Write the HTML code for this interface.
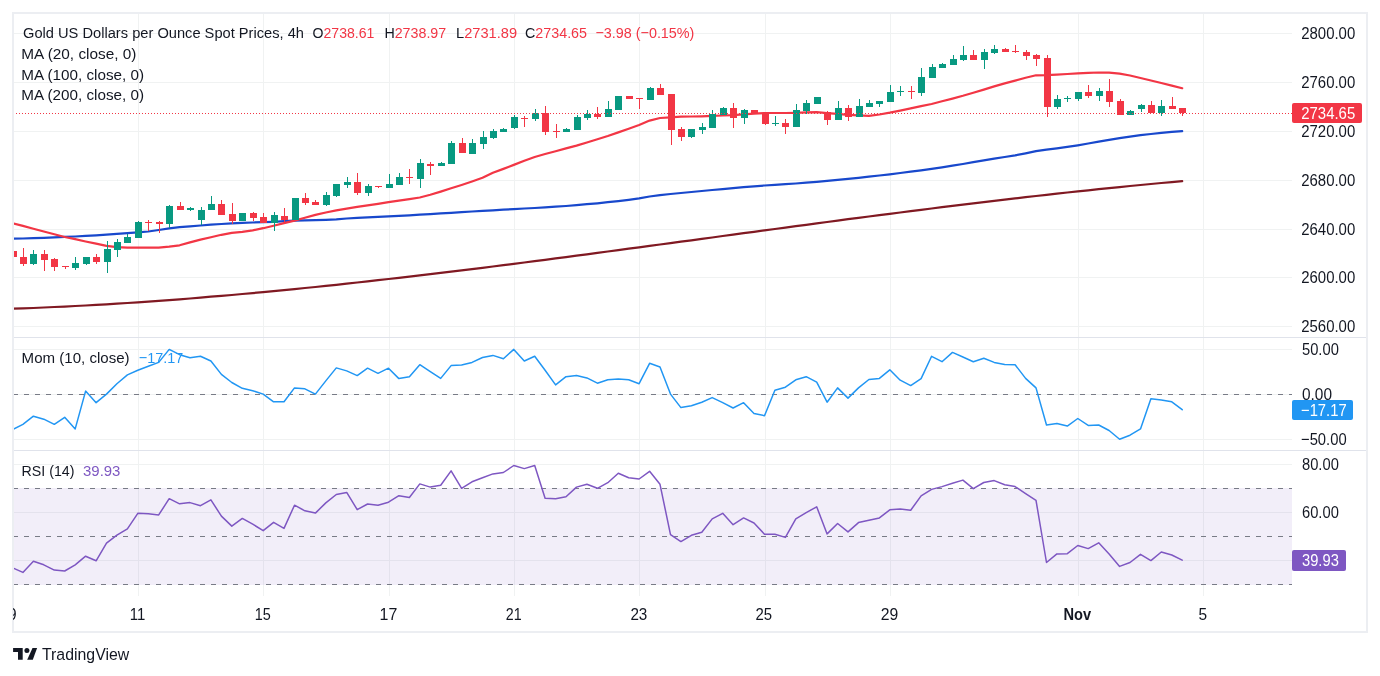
<!DOCTYPE html><html><head><meta charset="utf-8"><style>
html,body{margin:0;padding:0;background:#fff;width:1380px;height:676px;overflow:hidden}
body{position:relative;font-family:"Liberation Sans",sans-serif;color:#131722}
.t{position:absolute;white-space:nowrap;line-height:1}
svg{position:absolute;left:0;top:0;will-change:transform}
</style></head><body>
<svg width="1380" height="676" viewBox="0 0 1380 676">
<g stroke="#f0f2f2" stroke-width="1" shape-rendering="crispEdges">
<line x1="13" y1="33.5" x2="1292" y2="33.5"/>
<line x1="13" y1="82.5" x2="1292" y2="82.5"/>
<line x1="13" y1="131.5" x2="1292" y2="131.5"/>
<line x1="13" y1="180.5" x2="1292" y2="180.5"/>
<line x1="13" y1="229.5" x2="1292" y2="229.5"/>
<line x1="13" y1="277.5" x2="1292" y2="277.5"/>
<line x1="13" y1="326.5" x2="1292" y2="326.5"/>
<line x1="13" y1="349.5" x2="1292" y2="349.5"/>
<line x1="13" y1="394.5" x2="1292" y2="394.5"/>
<line x1="13" y1="439.5" x2="1292" y2="439.5"/>
<line x1="13" y1="464.5" x2="1292" y2="464.5"/>
<line x1="13" y1="512.5" x2="1292" y2="512.5"/>
<line x1="13" y1="560.5" x2="1292" y2="560.5"/>
<line x1="138.5" y1="13" x2="138.5" y2="337"/>
<line x1="138.5" y1="338" x2="138.5" y2="450"/>
<line x1="138.5" y1="451" x2="138.5" y2="596"/>
<line x1="263.5" y1="13" x2="263.5" y2="337"/>
<line x1="263.5" y1="338" x2="263.5" y2="450"/>
<line x1="263.5" y1="451" x2="263.5" y2="596"/>
<line x1="389.5" y1="13" x2="389.5" y2="337"/>
<line x1="389.5" y1="338" x2="389.5" y2="450"/>
<line x1="389.5" y1="451" x2="389.5" y2="596"/>
<line x1="514.5" y1="13" x2="514.5" y2="337"/>
<line x1="514.5" y1="338" x2="514.5" y2="450"/>
<line x1="514.5" y1="451" x2="514.5" y2="596"/>
<line x1="639.5" y1="13" x2="639.5" y2="337"/>
<line x1="639.5" y1="338" x2="639.5" y2="450"/>
<line x1="639.5" y1="451" x2="639.5" y2="596"/>
<line x1="765.5" y1="13" x2="765.5" y2="337"/>
<line x1="765.5" y1="338" x2="765.5" y2="450"/>
<line x1="765.5" y1="451" x2="765.5" y2="596"/>
<line x1="890.5" y1="13" x2="890.5" y2="337"/>
<line x1="890.5" y1="338" x2="890.5" y2="450"/>
<line x1="890.5" y1="451" x2="890.5" y2="596"/>
<line x1="1078.5" y1="13" x2="1078.5" y2="337"/>
<line x1="1078.5" y1="338" x2="1078.5" y2="450"/>
<line x1="1078.5" y1="451" x2="1078.5" y2="596"/>
<line x1="1203.5" y1="13" x2="1203.5" y2="337"/>
<line x1="1203.5" y1="338" x2="1203.5" y2="450"/>
<line x1="1203.5" y1="451" x2="1203.5" y2="596"/>
</g>
<rect x="13" y="488" width="1279" height="97" fill="rgb(126,87,194)" fill-opacity="0.1" shape-rendering="crispEdges"/>
<g stroke="#787b86" stroke-width="1" stroke-dasharray="5 6" shape-rendering="crispEdges">
<line x1="13" y1="394.5" x2="1292" y2="394.5"/>
<line x1="13" y1="488.5" x2="1292" y2="488.5"/>
<line x1="13" y1="536.5" x2="1292" y2="536.5"/>
<line x1="13" y1="584.5" x2="1292" y2="584.5"/>
</g>
<g stroke="#e0e3eb" stroke-width="1" shape-rendering="crispEdges" fill="none">
<line x1="14" y1="337.5" x2="1366" y2="337.5"/>
<line x1="14" y1="450.5" x2="1366" y2="450.5"/>
</g>
<defs><clipPath id="cp"><rect x="13" y="13" width="1279" height="583"/></clipPath></defs>
<g clip-path="url(#cp)">
<polyline points="12.5,308.7 22.9,308.4 33.4,308.0 43.8,307.5 54.3,307.0 64.7,306.6 75.2,306.0 85.6,305.5 96.1,304.9 106.5,304.3 116.9,303.6 127.4,303.0 137.8,302.3 148.3,301.6 158.7,300.8 169.2,300.1 179.6,299.3 190.0,298.5 200.5,297.6 210.9,296.7 221.4,295.9 231.8,295.0 242.3,294.0 252.7,293.1 263.2,292.1 273.6,291.1 284.0,290.1 294.5,289.1 304.9,288.0 315.4,287.0 325.8,285.9 336.3,284.8 346.7,283.6 357.2,282.5 367.6,281.4 378.0,280.2 388.5,279.0 398.9,277.8 409.4,276.6 419.8,275.4 430.3,274.1 440.7,272.9 451.1,271.6 461.6,270.3 472.0,269.1 482.5,267.8 492.9,266.5 503.4,265.1 513.8,263.8 524.3,262.5 534.7,261.1 545.1,259.8 555.6,258.4 566.0,257.1 576.5,255.7 586.9,254.3 597.4,252.9 607.8,251.5 618.3,250.1 628.7,248.7 639.1,247.3 649.6,245.9 660.0,244.5 670.5,243.1 680.9,241.7 691.4,240.3 701.8,238.9 712.2,237.5 722.7,236.0 733.1,234.6 743.6,233.2 754.0,231.8 764.5,230.4 774.9,229.0 785.4,227.6 795.8,226.2 806.2,224.8 816.7,223.4 827.1,222.0 837.6,220.6 848.0,219.2 858.5,217.9 868.9,216.5 879.4,215.2 889.8,213.8 900.2,212.5 910.7,211.1 921.1,209.8 931.6,208.5 942.0,207.2 952.5,205.9 962.9,204.6 973.3,203.4 983.8,202.1 994.2,200.9 1004.7,199.6 1015.1,198.4 1025.6,197.2 1036.0,196.0 1046.5,194.8 1056.9,193.7 1067.3,192.5 1077.8,191.4 1088.2,190.3 1098.7,189.2 1109.1,188.1 1119.6,187.1 1130.0,186.0 1140.5,185.0 1150.9,184.0 1161.3,183.0 1171.8,182.1 1182.2,181.1" fill="none" stroke="#801922" stroke-width="2.2" stroke-linejoin="round" stroke-linecap="round"/>
<polyline points="12.5,238.7 22.9,238.5 33.4,238.1 43.8,237.8 54.3,237.4 64.7,236.9 75.2,236.5 85.6,235.9 96.1,235.3 106.5,234.6 116.9,233.9 127.4,233.2 137.8,232.4 148.3,231.5 158.7,230.0 169.2,228.3 179.6,227.2 190.0,226.3 200.5,225.5 210.9,224.7 221.4,224.0 231.8,223.3 242.3,222.8 252.7,222.5 263.2,222.2 273.6,221.8 284.0,221.2 294.5,220.7 304.9,220.4 315.4,220.1 325.8,219.8 336.3,219.3 346.7,218.5 357.2,217.9 367.6,217.3 378.0,216.8 388.5,216.4 398.9,215.9 409.4,215.3 419.8,214.7 430.3,214.1 440.7,213.4 451.1,212.8 461.6,212.1 472.0,211.5 482.5,210.9 492.9,210.3 503.4,209.7 513.8,209.1 524.3,208.5 534.7,208.0 545.1,207.4 555.6,206.7 566.0,206.0 576.5,205.1 586.9,204.2 597.4,203.3 607.8,202.2 618.3,201.1 628.7,199.8 639.1,198.4 649.6,196.5 660.0,195.1 670.5,194.0 680.9,193.0 691.4,192.0 701.8,191.0 712.2,190.0 722.7,189.1 733.1,188.1 743.6,187.2 754.0,186.3 764.5,185.5 774.9,184.8 785.4,184.2 795.8,183.5 806.2,182.7 816.7,181.8 827.1,180.9 837.6,179.9 848.0,178.8 858.5,177.8 868.9,176.7 879.4,175.5 889.8,174.3 900.2,173.0 910.7,171.7 921.1,170.3 931.6,168.8 942.0,167.3 952.5,165.7 962.9,164.0 973.3,162.2 983.8,160.4 994.2,158.6 1004.7,157.0 1015.1,155.4 1025.6,153.3 1036.0,151.2 1046.5,149.6 1056.9,148.3 1067.3,146.9 1077.8,145.3 1088.2,143.5 1098.7,141.7 1109.1,139.9 1119.6,138.2 1130.0,136.6 1140.5,135.2 1150.9,134.0 1161.3,132.9 1171.8,131.9 1182.2,131.1" fill="none" stroke="#1848cc" stroke-width="2.2" stroke-linejoin="round" stroke-linecap="round"/>
<polyline points="12.5,223.3 22.9,225.9 33.4,228.7 43.8,231.5 54.3,234.3 64.7,237.0 75.2,239.2 85.6,241.5 96.1,243.7 106.5,245.8 116.9,247.1 127.4,247.6 137.8,247.6 148.3,247.6 158.7,247.6 169.2,246.6 179.6,245.3 190.0,242.4 200.5,239.6 210.9,237.2 221.4,234.8 231.8,232.9 242.3,231.8 252.7,230.3 263.2,228.2 273.6,225.7 284.0,223.1 294.5,220.6 304.9,217.8 315.4,214.9 325.8,212.5 336.3,210.4 346.7,208.6 357.2,206.9 367.6,205.4 378.0,203.8 388.5,202.2 398.9,200.7 409.4,199.1 419.8,197.5 430.3,194.7 440.7,191.6 451.1,188.3 461.6,185.0 472.0,181.5 482.5,177.8 492.9,172.8 503.4,168.9 513.8,164.9 524.3,160.8 534.7,157.0 545.1,154.0 555.6,151.2 566.0,148.4 576.5,145.6 586.9,142.5 597.4,139.2 607.8,136.0 618.3,132.4 628.7,128.7 639.1,125.0 649.6,120.6 660.0,118.0 670.5,117.3 680.9,116.7 691.4,116.5 701.8,116.3 712.2,115.9 722.7,115.5 733.1,115.1 743.6,114.4 754.0,113.7 764.5,113.0 774.9,113.0 785.4,113.0 795.8,112.8 806.2,112.4 816.7,112.1 827.1,113.1 837.6,113.9 848.0,114.8 858.5,115.4 868.9,115.9 879.4,114.5 889.8,112.7 900.2,110.6 910.7,108.4 921.1,106.2 931.6,104.0 942.0,101.3 952.5,98.6 962.9,95.8 973.3,92.7 983.8,89.6 994.2,86.4 1004.7,83.4 1015.1,80.6 1025.6,77.8 1036.0,75.3 1046.5,75.2 1056.9,74.6 1067.3,74.0 1077.8,73.4 1088.2,72.9 1098.7,72.5 1109.1,72.7 1119.6,73.7 1130.0,75.5 1140.5,78.0 1150.9,80.5 1161.3,83.0 1171.8,85.6 1182.2,88.2" fill="none" stroke="#F23645" stroke-width="2.2" stroke-linejoin="round" stroke-linecap="round"/>
<g shape-rendering="crispEdges">
<rect x="13" y="249" width="1" height="10" fill="#F23645"/>
<rect x="10" y="251" width="7" height="6" fill="#F23645"/>
<rect x="23" y="248" width="1" height="18" fill="#F23645"/>
<rect x="20" y="257" width="7" height="7" fill="#F23645"/>
<rect x="33" y="250" width="1" height="15" fill="#089981"/>
<rect x="30" y="254" width="7" height="10" fill="#089981"/>
<rect x="44" y="250" width="1" height="21" fill="#F23645"/>
<rect x="41" y="254" width="7" height="6" fill="#F23645"/>
<rect x="54" y="258" width="1" height="13" fill="#F23645"/>
<rect x="51" y="259" width="7" height="8" fill="#F23645"/>
<rect x="65" y="266" width="1" height="3" fill="#F23645"/>
<rect x="62" y="266" width="7" height="1" fill="#F23645"/>
<rect x="75" y="257" width="1" height="13" fill="#089981"/>
<rect x="72" y="263" width="7" height="5" fill="#089981"/>
<rect x="86" y="257" width="1" height="8" fill="#089981"/>
<rect x="83" y="257" width="7" height="7" fill="#089981"/>
<rect x="96" y="254" width="1" height="10" fill="#F23645"/>
<rect x="93" y="257" width="7" height="5" fill="#F23645"/>
<rect x="107" y="241" width="1" height="32" fill="#089981"/>
<rect x="104" y="249" width="7" height="13" fill="#089981"/>
<rect x="117" y="239" width="1" height="18" fill="#089981"/>
<rect x="114" y="242" width="7" height="8" fill="#089981"/>
<rect x="127" y="234" width="1" height="9" fill="#089981"/>
<rect x="124" y="237" width="7" height="6" fill="#089981"/>
<rect x="138" y="221" width="1" height="17" fill="#089981"/>
<rect x="135" y="222" width="7" height="16" fill="#089981"/>
<rect x="148" y="220" width="1" height="11" fill="#F23645"/>
<rect x="145" y="222" width="7" height="1" fill="#F23645"/>
<rect x="159" y="221" width="1" height="12" fill="#F23645"/>
<rect x="156" y="222" width="7" height="2" fill="#F23645"/>
<rect x="169" y="205" width="1" height="23" fill="#089981"/>
<rect x="166" y="206" width="7" height="18" fill="#089981"/>
<rect x="180" y="202" width="1" height="8" fill="#F23645"/>
<rect x="177" y="206" width="7" height="4" fill="#F23645"/>
<rect x="190" y="207" width="1" height="4" fill="#089981"/>
<rect x="187" y="208" width="7" height="2" fill="#089981"/>
<rect x="201" y="207" width="1" height="18" fill="#089981"/>
<rect x="198" y="210" width="7" height="10" fill="#089981"/>
<rect x="211" y="196" width="1" height="14" fill="#089981"/>
<rect x="208" y="204" width="7" height="6" fill="#089981"/>
<rect x="221" y="200" width="1" height="15" fill="#F23645"/>
<rect x="218" y="204" width="7" height="11" fill="#F23645"/>
<rect x="232" y="203" width="1" height="21" fill="#F23645"/>
<rect x="229" y="214" width="7" height="7" fill="#F23645"/>
<rect x="242" y="213" width="1" height="8" fill="#089981"/>
<rect x="239" y="213" width="7" height="8" fill="#089981"/>
<rect x="253" y="212" width="1" height="9" fill="#F23645"/>
<rect x="250" y="213" width="7" height="5" fill="#F23645"/>
<rect x="263" y="213" width="1" height="10" fill="#F23645"/>
<rect x="260" y="217" width="7" height="6" fill="#F23645"/>
<rect x="274" y="212" width="1" height="19" fill="#089981"/>
<rect x="271" y="215" width="7" height="8" fill="#089981"/>
<rect x="284" y="208" width="1" height="14" fill="#F23645"/>
<rect x="281" y="216" width="7" height="4" fill="#F23645"/>
<rect x="295" y="198" width="1" height="22" fill="#089981"/>
<rect x="292" y="198" width="7" height="22" fill="#089981"/>
<rect x="305" y="193" width="1" height="12" fill="#F23645"/>
<rect x="302" y="198" width="7" height="5" fill="#F23645"/>
<rect x="315" y="200" width="1" height="5" fill="#F23645"/>
<rect x="312" y="202" width="7" height="3" fill="#F23645"/>
<rect x="326" y="192" width="1" height="14" fill="#089981"/>
<rect x="323" y="195" width="7" height="10" fill="#089981"/>
<rect x="336" y="184" width="1" height="13" fill="#089981"/>
<rect x="333" y="184" width="7" height="12" fill="#089981"/>
<rect x="347" y="177" width="1" height="11" fill="#089981"/>
<rect x="344" y="182" width="7" height="3" fill="#089981"/>
<rect x="357" y="173" width="1" height="22" fill="#F23645"/>
<rect x="354" y="182" width="7" height="11" fill="#F23645"/>
<rect x="368" y="184" width="1" height="12" fill="#089981"/>
<rect x="365" y="186" width="7" height="7" fill="#089981"/>
<rect x="378" y="186" width="1" height="2" fill="#F23645"/>
<rect x="375" y="186" width="7" height="1" fill="#F23645"/>
<rect x="389" y="174" width="1" height="14" fill="#089981"/>
<rect x="386" y="184" width="7" height="4" fill="#089981"/>
<rect x="399" y="173" width="1" height="12" fill="#089981"/>
<rect x="396" y="177" width="7" height="8" fill="#089981"/>
<rect x="409" y="169" width="1" height="15" fill="#F23645"/>
<rect x="406" y="177" width="7" height="1" fill="#F23645"/>
<rect x="420" y="159" width="1" height="29" fill="#089981"/>
<rect x="417" y="163" width="7" height="16" fill="#089981"/>
<rect x="430" y="162" width="1" height="13" fill="#F23645"/>
<rect x="427" y="164" width="7" height="2" fill="#F23645"/>
<rect x="441" y="162" width="1" height="4" fill="#089981"/>
<rect x="438" y="163" width="7" height="3" fill="#089981"/>
<rect x="451" y="141" width="1" height="23" fill="#089981"/>
<rect x="448" y="143" width="7" height="21" fill="#089981"/>
<rect x="462" y="138" width="1" height="15" fill="#F23645"/>
<rect x="459" y="143" width="7" height="10" fill="#F23645"/>
<rect x="472" y="139" width="1" height="15" fill="#089981"/>
<rect x="469" y="143" width="7" height="11" fill="#089981"/>
<rect x="483" y="131" width="1" height="18" fill="#089981"/>
<rect x="480" y="137" width="7" height="7" fill="#089981"/>
<rect x="493" y="129" width="1" height="10" fill="#089981"/>
<rect x="490" y="131" width="7" height="7" fill="#089981"/>
<rect x="503" y="128" width="1" height="4" fill="#089981"/>
<rect x="500" y="129" width="7" height="3" fill="#089981"/>
<rect x="514" y="115" width="1" height="14" fill="#089981"/>
<rect x="511" y="117" width="7" height="11" fill="#089981"/>
<rect x="524" y="116" width="1" height="11" fill="#F23645"/>
<rect x="521" y="118" width="7" height="1" fill="#F23645"/>
<rect x="535" y="109" width="1" height="12" fill="#089981"/>
<rect x="532" y="113" width="7" height="6" fill="#089981"/>
<rect x="545" y="106" width="1" height="29" fill="#F23645"/>
<rect x="542" y="113" width="7" height="19" fill="#F23645"/>
<rect x="556" y="124" width="1" height="14" fill="#F23645"/>
<rect x="553" y="131" width="7" height="1" fill="#F23645"/>
<rect x="566" y="128" width="1" height="4" fill="#089981"/>
<rect x="563" y="129" width="7" height="3" fill="#089981"/>
<rect x="577" y="115" width="1" height="15" fill="#089981"/>
<rect x="574" y="117" width="7" height="13" fill="#089981"/>
<rect x="587" y="110" width="1" height="10" fill="#089981"/>
<rect x="584" y="114" width="7" height="4" fill="#089981"/>
<rect x="597" y="107" width="1" height="12" fill="#F23645"/>
<rect x="594" y="114" width="7" height="3" fill="#F23645"/>
<rect x="608" y="101" width="1" height="16" fill="#089981"/>
<rect x="605" y="109" width="7" height="8" fill="#089981"/>
<rect x="618" y="96" width="1" height="14" fill="#089981"/>
<rect x="615" y="96" width="7" height="14" fill="#089981"/>
<rect x="629" y="96" width="1" height="3" fill="#F23645"/>
<rect x="626" y="96" width="7" height="3" fill="#F23645"/>
<rect x="639" y="98" width="1" height="11" fill="#F23645"/>
<rect x="636" y="98" width="7" height="1" fill="#F23645"/>
<rect x="650" y="87" width="1" height="13" fill="#089981"/>
<rect x="647" y="88" width="7" height="12" fill="#089981"/>
<rect x="660" y="84" width="1" height="11" fill="#F23645"/>
<rect x="657" y="88" width="7" height="7" fill="#F23645"/>
<rect x="671" y="94" width="1" height="51" fill="#F23645"/>
<rect x="668" y="94" width="7" height="36" fill="#F23645"/>
<rect x="681" y="127" width="1" height="14" fill="#F23645"/>
<rect x="678" y="129" width="7" height="8" fill="#F23645"/>
<rect x="691" y="129" width="1" height="9" fill="#089981"/>
<rect x="688" y="129" width="7" height="8" fill="#089981"/>
<rect x="702" y="123" width="1" height="11" fill="#089981"/>
<rect x="699" y="127" width="7" height="3" fill="#089981"/>
<rect x="712" y="110" width="1" height="18" fill="#089981"/>
<rect x="709" y="114" width="7" height="14" fill="#089981"/>
<rect x="723" y="107" width="1" height="8" fill="#089981"/>
<rect x="720" y="108" width="7" height="7" fill="#089981"/>
<rect x="733" y="103" width="1" height="25" fill="#F23645"/>
<rect x="730" y="108" width="7" height="10" fill="#F23645"/>
<rect x="744" y="109" width="1" height="15" fill="#089981"/>
<rect x="741" y="110" width="7" height="8" fill="#089981"/>
<rect x="754" y="110" width="1" height="3" fill="#F23645"/>
<rect x="751" y="110" width="7" height="3" fill="#F23645"/>
<rect x="765" y="113" width="1" height="12" fill="#F23645"/>
<rect x="762" y="113" width="7" height="11" fill="#F23645"/>
<rect x="775" y="116" width="1" height="10" fill="#089981"/>
<rect x="772" y="123" width="7" height="1" fill="#089981"/>
<rect x="785" y="119" width="1" height="15" fill="#F23645"/>
<rect x="782" y="123" width="7" height="4" fill="#F23645"/>
<rect x="796" y="104" width="1" height="23" fill="#089981"/>
<rect x="793" y="110" width="7" height="17" fill="#089981"/>
<rect x="806" y="100" width="1" height="14" fill="#089981"/>
<rect x="803" y="103" width="7" height="8" fill="#089981"/>
<rect x="817" y="97" width="1" height="7" fill="#089981"/>
<rect x="814" y="97" width="7" height="7" fill="#089981"/>
<rect x="827" y="111" width="1" height="14" fill="#F23645"/>
<rect x="824" y="112" width="7" height="8" fill="#F23645"/>
<rect x="838" y="101" width="1" height="19" fill="#089981"/>
<rect x="835" y="108" width="7" height="12" fill="#089981"/>
<rect x="848" y="105" width="1" height="16" fill="#F23645"/>
<rect x="845" y="108" width="7" height="9" fill="#F23645"/>
<rect x="859" y="99" width="1" height="18" fill="#089981"/>
<rect x="856" y="106" width="7" height="11" fill="#089981"/>
<rect x="869" y="100" width="1" height="7" fill="#089981"/>
<rect x="866" y="103" width="7" height="4" fill="#089981"/>
<rect x="879" y="101" width="1" height="6" fill="#089981"/>
<rect x="876" y="101" width="7" height="3" fill="#089981"/>
<rect x="890" y="85" width="1" height="17" fill="#089981"/>
<rect x="887" y="92" width="7" height="10" fill="#089981"/>
<rect x="900" y="86" width="1" height="10" fill="#089981"/>
<rect x="897" y="91" width="7" height="1" fill="#089981"/>
<rect x="911" y="86" width="1" height="13" fill="#F23645"/>
<rect x="908" y="91" width="7" height="1" fill="#F23645"/>
<rect x="921" y="68" width="1" height="28" fill="#089981"/>
<rect x="918" y="77" width="7" height="16" fill="#089981"/>
<rect x="932" y="64" width="1" height="14" fill="#089981"/>
<rect x="929" y="67" width="7" height="11" fill="#089981"/>
<rect x="942" y="63" width="1" height="5" fill="#089981"/>
<rect x="939" y="64" width="7" height="4" fill="#089981"/>
<rect x="953" y="55" width="1" height="10" fill="#089981"/>
<rect x="950" y="59" width="7" height="6" fill="#089981"/>
<rect x="963" y="46" width="1" height="15" fill="#089981"/>
<rect x="960" y="55" width="7" height="5" fill="#089981"/>
<rect x="973" y="50" width="1" height="10" fill="#F23645"/>
<rect x="970" y="55" width="7" height="5" fill="#F23645"/>
<rect x="984" y="49" width="1" height="20" fill="#089981"/>
<rect x="981" y="52" width="7" height="8" fill="#089981"/>
<rect x="994" y="45" width="1" height="9" fill="#089981"/>
<rect x="991" y="49" width="7" height="4" fill="#089981"/>
<rect x="1005" y="48" width="1" height="4" fill="#F23645"/>
<rect x="1002" y="49" width="7" height="3" fill="#F23645"/>
<rect x="1015" y="45" width="1" height="8" fill="#F23645"/>
<rect x="1012" y="51" width="7" height="1" fill="#F23645"/>
<rect x="1026" y="50" width="1" height="10" fill="#F23645"/>
<rect x="1023" y="52" width="7" height="4" fill="#F23645"/>
<rect x="1036" y="54" width="1" height="12" fill="#F23645"/>
<rect x="1033" y="55" width="7" height="4" fill="#F23645"/>
<rect x="1047" y="55" width="1" height="62" fill="#F23645"/>
<rect x="1044" y="58" width="7" height="49" fill="#F23645"/>
<rect x="1057" y="95" width="1" height="14" fill="#089981"/>
<rect x="1054" y="99" width="7" height="8" fill="#089981"/>
<rect x="1067" y="96" width="1" height="6" fill="#089981"/>
<rect x="1064" y="98" width="7" height="1" fill="#089981"/>
<rect x="1078" y="92" width="1" height="9" fill="#089981"/>
<rect x="1075" y="92" width="7" height="7" fill="#089981"/>
<rect x="1088" y="85" width="1" height="13" fill="#F23645"/>
<rect x="1085" y="92" width="7" height="4" fill="#F23645"/>
<rect x="1099" y="88" width="1" height="13" fill="#089981"/>
<rect x="1096" y="91" width="7" height="5" fill="#089981"/>
<rect x="1109" y="79" width="1" height="28" fill="#F23645"/>
<rect x="1106" y="91" width="7" height="11" fill="#F23645"/>
<rect x="1120" y="99" width="1" height="16" fill="#F23645"/>
<rect x="1117" y="101" width="7" height="14" fill="#F23645"/>
<rect x="1130" y="110" width="1" height="5" fill="#089981"/>
<rect x="1127" y="111" width="7" height="4" fill="#089981"/>
<rect x="1141" y="104" width="1" height="8" fill="#089981"/>
<rect x="1138" y="105" width="7" height="4" fill="#089981"/>
<rect x="1151" y="101" width="1" height="12" fill="#F23645"/>
<rect x="1148" y="105" width="7" height="8" fill="#F23645"/>
<rect x="1161" y="100" width="1" height="16" fill="#089981"/>
<rect x="1158" y="106" width="7" height="7" fill="#089981"/>
<rect x="1172" y="97" width="1" height="12" fill="#F23645"/>
<rect x="1169" y="106" width="7" height="3" fill="#F23645"/>
<rect x="1182" y="108" width="1" height="8" fill="#F23645"/>
<rect x="1179" y="108" width="7" height="5" fill="#F23645"/>
</g>
<line x1="13" y1="113.5" x2="1292" y2="113.5" stroke="#F23645" stroke-width="1" stroke-dasharray="1 2" shape-rendering="crispEdges"/>
<polyline points="12.5,429.6 22.9,424.3 33.4,416.2 43.8,419.2 54.3,424.3 64.7,417.3 75.2,428.9 85.6,391.1 96.1,402.7 106.5,394.1 116.9,383.7 127.4,374.9 137.8,370.2 148.3,366.3 158.7,362.4 169.2,349.4 179.6,354.7 190.0,357.7 200.5,356.3 210.9,361.0 221.4,374.4 231.8,382.5 242.3,388.3 252.7,390.7 263.2,394.1 273.6,401.8 284.0,401.8 294.5,387.9 304.9,388.8 315.4,394.1 325.8,380.9 336.3,367.9 346.7,370.9 357.2,375.6 367.6,368.2 378.0,373.3 388.5,368.2 398.9,378.6 409.4,376.7 419.8,364.7 430.3,371.6 440.7,378.4 451.1,365.6 461.6,365.1 472.0,362.4 482.5,357.5 492.9,355.4 503.4,358.7 513.8,349.4 524.3,361.0 534.7,356.3 545.1,370.2 555.6,384.9 566.0,376.7 576.5,375.6 586.9,377.9 597.4,383.2 607.8,379.8 618.3,379.1 628.7,379.8 639.1,383.7 649.6,363.3 660.0,367.0 670.5,394.1 680.9,407.6 691.4,405.7 701.8,402.2 712.2,397.6 722.7,402.7 733.1,408.0 743.6,402.7 754.0,413.4 764.5,415.7 774.9,390.2 785.4,387.2 795.8,379.8 806.2,376.7 816.7,382.1 827.1,402.2 837.6,387.9 848.0,398.1 858.5,387.9 868.9,379.5 879.4,378.4 889.8,369.8 900.2,380.2 910.7,385.6 921.1,378.6 931.6,356.3 942.0,361.7 952.5,352.4 962.9,357.0 973.3,361.7 983.8,358.2 994.2,362.4 1004.7,364.4 1015.1,364.7 1025.6,378.4 1036.0,387.9 1046.5,425.0 1056.9,423.6 1067.3,426.1 1077.8,418.5 1088.2,425.4 1098.7,425.0 1109.1,430.5 1119.6,439.3 1130.0,435.2 1140.5,428.9 1150.9,398.8 1161.3,399.9 1171.8,401.8 1182.2,409.7" fill="none" stroke="#2196F3" stroke-width="1.5" stroke-linejoin="round" stroke-linecap="round"/>
<polyline points="12.5,567.8 22.9,572.4 33.4,561.3 43.8,564.8 54.3,570.1 64.7,571.0 75.2,564.8 85.6,556.2 96.1,560.8 106.5,543.2 116.9,535.1 127.4,528.8 137.8,513.3 148.3,513.8 158.7,514.9 169.2,498.7 179.6,503.8 190.0,502.6 200.5,505.7 210.9,499.9 221.4,516.1 231.8,526.1 242.3,518.4 252.7,524.2 263.2,530.7 273.6,522.3 284.0,528.4 294.5,505.2 304.9,510.8 315.4,513.1 325.8,502.9 336.3,494.5 346.7,492.4 357.2,509.6 367.6,504.0 378.0,505.2 388.5,502.2 398.9,495.7 409.4,497.5 419.8,483.9 430.3,487.1 440.7,485.2 451.1,470.9 461.6,488.3 472.0,481.8 482.5,477.8 492.9,473.9 503.4,472.5 513.8,465.5 524.3,468.6 534.7,465.5 545.1,498.2 555.6,498.7 566.0,496.8 576.5,487.1 586.9,484.3 597.4,488.3 607.8,482.7 618.3,473.2 628.7,477.8 639.1,479.0 649.6,471.3 660.0,484.3 670.5,534.6 680.9,541.6 691.4,535.3 701.8,532.3 712.2,518.9 722.7,513.3 733.1,524.7 743.6,517.9 754.0,523.0 764.5,534.2 774.9,534.2 785.4,537.4 795.8,518.9 806.2,512.6 816.7,506.8 827.1,533.9 837.6,523.5 848.0,531.9 858.5,522.6 868.9,520.3 879.4,517.9 889.8,509.8 900.2,509.1 910.7,510.3 921.1,495.9 931.6,489.4 942.0,486.6 952.5,483.2 962.9,480.1 973.3,488.7 983.8,482.5 994.2,480.6 1004.7,484.8 1015.1,486.6 1025.6,493.6 1036.0,500.3 1046.5,562.5 1056.9,553.9 1067.3,553.7 1077.8,545.5 1088.2,548.6 1098.7,542.8 1109.1,553.9 1119.6,566.4 1130.0,562.5 1140.5,554.3 1150.9,560.6 1161.3,552.0 1171.8,555.0 1182.2,560.1" fill="none" stroke="#7E57C2" stroke-width="1.5" stroke-linejoin="round" stroke-linecap="round"/>
</g>
<rect x="1292" y="103" width="70" height="20" rx="2" fill="#F23645"/>
<rect x="1292" y="400" width="61" height="20" rx="2" fill="#2196F3"/>
<rect x="1292" y="550" width="54" height="21" rx="2" fill="#7E57C2"/>
<g fill="#131722">
<path d="M13.1,648 H22.7 V659.7 H18 V652.1 H13.1 Z"/>
<circle cx="26.9" cy="650.4" r="2.5"/>
<path d="M32.5,648 H37.1 L32.8,659.7 H27.2 Z"/>
</g>
<rect x="13" y="13" width="1354" height="619" stroke="#eceef2" stroke-width="2" fill="none" shape-rendering="crispEdges"/>
</svg>
<svg width="1380" height="676" viewBox="0 0 1380 676" style="font-family:'Liberation Sans',sans-serif">
<defs><clipPath id="cpt"><rect x="13" y="597" width="1279" height="34"/></clipPath></defs>
<text x="23.00" y="37.6" font-size="15.5" font-weight="400" textLength="281.00" lengthAdjust="spacingAndGlyphs"><tspan fill="#131722">Gold US Dollars per Ounce Spot Prices, 4h</tspan></text><text x="312.60" y="37.6" font-size="15.5" font-weight="400" textLength="61.82" lengthAdjust="spacingAndGlyphs"><tspan fill="#131722">O</tspan><tspan fill="#F23645">2738.61</tspan></text><text x="384.40" y="37.6" font-size="15.5" font-weight="400" textLength="61.81" lengthAdjust="spacingAndGlyphs"><tspan fill="#131722">H</tspan><tspan fill="#F23645">2738.97</tspan></text><text x="456.00" y="37.6" font-size="15.5" font-weight="400" textLength="61.05" lengthAdjust="spacingAndGlyphs"><tspan fill="#131722">L</tspan><tspan fill="#F23645">2731.89</tspan></text><text x="525.00" y="37.6" font-size="15.5" font-weight="400" textLength="62.02" lengthAdjust="spacingAndGlyphs"><tspan fill="#131722">C</tspan><tspan fill="#F23645">2734.65</tspan></text><text x="595.40" y="37.6" font-size="15.5" font-weight="400" textLength="99.02" lengthAdjust="spacingAndGlyphs"><tspan fill="#F23645">−3.98 (−0.15%)</tspan></text><text x="21.20" y="58.6" font-size="15.5" font-weight="400" textLength="115.24" lengthAdjust="spacingAndGlyphs"><tspan fill="#131722">MA (20, close, 0)</tspan></text><text x="21.20" y="79.5" font-size="15.5" font-weight="400" textLength="122.82" lengthAdjust="spacingAndGlyphs"><tspan fill="#131722">MA (100, close, 0)</tspan></text><text x="21.20" y="100.4" font-size="15.5" font-weight="400" textLength="122.82" lengthAdjust="spacingAndGlyphs"><tspan fill="#131722">MA (200, close, 0)</tspan></text><text x="21.60" y="362.8" font-size="15.5" font-weight="400" textLength="108.02" lengthAdjust="spacingAndGlyphs"><tspan fill="#131722">Mom (10, close)</tspan></text><text x="138.80" y="362.8" font-size="15.5" font-weight="400" textLength="44.41" lengthAdjust="spacingAndGlyphs"><tspan fill="#2196F3">−17.17</tspan></text><text x="21.60" y="475.6" font-size="15.5" font-weight="400" textLength="52.85" lengthAdjust="spacingAndGlyphs"><tspan fill="#131722">RSI (14)</tspan></text><text x="83.00" y="475.6" font-size="15.5" font-weight="400" textLength="37.44" lengthAdjust="spacingAndGlyphs"><tspan fill="#7E57C2">39.93</tspan></text><text x="1301.20" y="38.9" font-size="16.75" font-weight="400" textLength="54.04" lengthAdjust="spacingAndGlyphs"><tspan fill="#131722">2800.00</tspan></text><text x="1301.20" y="87.9" font-size="16.75" font-weight="400" textLength="54.04" lengthAdjust="spacingAndGlyphs"><tspan fill="#131722">2760.00</tspan></text><text x="1301.20" y="136.9" font-size="16.75" font-weight="400" textLength="54.04" lengthAdjust="spacingAndGlyphs"><tspan fill="#131722">2720.00</tspan></text><text x="1301.20" y="185.9" font-size="16.75" font-weight="400" textLength="54.04" lengthAdjust="spacingAndGlyphs"><tspan fill="#131722">2680.00</tspan></text><text x="1301.20" y="234.9" font-size="16.75" font-weight="400" textLength="54.04" lengthAdjust="spacingAndGlyphs"><tspan fill="#131722">2640.00</tspan></text><text x="1301.20" y="282.9" font-size="16.75" font-weight="400" textLength="54.04" lengthAdjust="spacingAndGlyphs"><tspan fill="#131722">2600.00</tspan></text><text x="1301.20" y="331.9" font-size="16.75" font-weight="400" textLength="54.04" lengthAdjust="spacingAndGlyphs"><tspan fill="#131722">2560.00</tspan></text><text x="1301.20" y="118.9" font-size="16.75" font-weight="400" textLength="54.04" lengthAdjust="spacingAndGlyphs"><tspan fill="#ffffff">2734.65</tspan></text><text x="1302.00" y="354.9" font-size="16.75" font-weight="400" textLength="36.81" lengthAdjust="spacingAndGlyphs"><tspan fill="#131722">50.00</tspan></text><text x="1302.00" y="399.9" font-size="16.75" font-weight="400" textLength="30.04" lengthAdjust="spacingAndGlyphs"><tspan fill="#131722">0.00</tspan></text><text x="1301.00" y="415.9" font-size="16.75" font-weight="400" textLength="45.61" lengthAdjust="spacingAndGlyphs"><tspan fill="#ffffff">−17.17</tspan></text><text x="1301.00" y="444.9" font-size="16.75" font-weight="400" textLength="45.61" lengthAdjust="spacingAndGlyphs"><tspan fill="#131722">−50.00</tspan></text><text x="1302.00" y="469.9" font-size="16.75" font-weight="400" textLength="36.81" lengthAdjust="spacingAndGlyphs"><tspan fill="#131722">80.00</tspan></text><text x="1302.00" y="517.9" font-size="16.75" font-weight="400" textLength="36.81" lengthAdjust="spacingAndGlyphs"><tspan fill="#131722">60.00</tspan></text><text x="1302.00" y="565.9" font-size="16.75" font-weight="400" textLength="36.81" lengthAdjust="spacingAndGlyphs"><tspan fill="#ffffff">39.93</tspan></text><text x="42.00" y="659.9" font-size="16.3" font-weight="400" textLength="87.20" lengthAdjust="spacingAndGlyphs"><tspan fill="#131722">TradingView</tspan></text><text clip-path="url(#cpt)" x="7.80" y="619.5" font-size="16.75" font-weight="400" textLength="8.92" lengthAdjust="spacingAndGlyphs"><tspan fill="#131722">9</tspan></text><text x="129.80" y="620" font-size="16.75" font-weight="400" textLength="15.52" lengthAdjust="spacingAndGlyphs"><tspan fill="#131722">11</tspan></text><text x="254.80" y="620" font-size="16.75" font-weight="400" textLength="16.07" lengthAdjust="spacingAndGlyphs"><tspan fill="#131722">15</tspan></text><text x="379.60" y="620" font-size="16.75" font-weight="400" textLength="17.75" lengthAdjust="spacingAndGlyphs"><tspan fill="#131722">17</tspan></text><text x="505.80" y="620" font-size="16.75" font-weight="400" textLength="15.83" lengthAdjust="spacingAndGlyphs"><tspan fill="#131722">21</tspan></text><text x="630.40" y="620" font-size="16.75" font-weight="400" textLength="16.96" lengthAdjust="spacingAndGlyphs"><tspan fill="#131722">23</tspan></text><text x="755.40" y="620" font-size="16.75" font-weight="400" textLength="16.64" lengthAdjust="spacingAndGlyphs"><tspan fill="#131722">25</tspan></text><text x="880.80" y="620" font-size="16.75" font-weight="400" textLength="17.51" lengthAdjust="spacingAndGlyphs"><tspan fill="#131722">29</tspan></text><text x="1063.40" y="620" font-size="16" font-weight="700" textLength="27.65" lengthAdjust="spacingAndGlyphs"><tspan fill="#131722">Nov</tspan></text><text x="1198.60" y="620" font-size="16.75" font-weight="400" textLength="8.63" lengthAdjust="spacingAndGlyphs"><tspan fill="#131722">5</tspan></text>
</svg>
</body></html>
